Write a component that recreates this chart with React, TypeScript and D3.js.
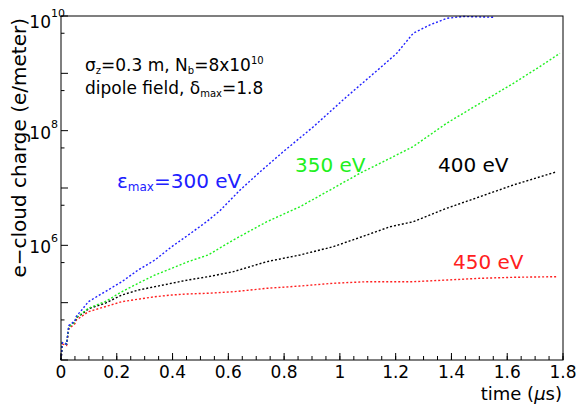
import React from "react";
import * as d3 from "d3";

const blueT = [0, 0.005, 0.02, 0.028, 0.05, 0.055, 0.075, 0.098, 0.158, 0.218, 0.277, 0.337, 0.397, 0.456, 0.522, 0.57, 0.642, 0.714, 0.797, 0.905, 1.024, 1.144, 1.204, 1.263, 1.323, 1.383, 1.442, 1.55];
const blueV = [1.0e4, 2.0e4, 1.9e4, 4.0e4, 4.8e4, 5.8e4, 7.5e4, 1.04e5, 1.55e5, 2.32e5, 3.72e5, 5.55e5, 9.46e5, 1.51e6, 2.58e6, 4.03e6, 9.2e6, 1.92e7, 4.3e7, 1.17e8, 3.9e8, 1.24e9, 2.24e9, 5.0e9, 7.0e9, 9.1e9, 9.8e9, 9.5e9];

const greenT = [0, 0.005, 0.02, 0.028, 0.05, 0.055, 0.075, 0.098, 0.158, 0.218, 0.277, 0.337, 0.397, 0.456, 0.528, 0.618, 0.738, 0.857, 0.976, 1.072, 1.168, 1.262, 1.383, 1.502, 1.622, 1.717, 1.789];
const greenV = [1.0e4, 2.0e4, 1.9e4, 3.8e4, 4.6e4, 5.6e4, 6.5e4, 8.0e4, 1.04e5, 1.55e5, 2.18e5, 3.04e5, 3.98e5, 5.19e5, 6.8e5, 1.24e6, 2.58e6, 4.72e6, 9.9e6, 1.81e7, 3.08e7, 5.25e7, 1.35e8, 3.0e8, 6.7e8, 1.31e9, 2.24e9];

const blackT = [0, 0.005, 0.02, 0.028, 0.05, 0.055, 0.075, 0.098, 0.158, 0.218, 0.277, 0.337, 0.397, 0.456, 0.528, 0.618, 0.738, 0.857, 0.976, 1.096, 1.18, 1.263, 1.383, 1.502, 1.622, 1.777];
const blackV = [1.0e4, 2.0e4, 1.9e4, 3.8e4, 4.6e4, 5.5e4, 6.3e4, 7.8e4, 9.75e4, 1.36e5, 1.66e5, 1.9e5, 2.18e5, 2.49e5, 2.84e5, 3.47e5, 5.19e5, 6.79e5, 9.47e5, 1.51e6, 2.11e6, 2.58e6, 4.43e6, 7.05e6, 1.13e7, 1.92e7];

const redT = [0, 0.005, 0.02, 0.028, 0.05, 0.055, 0.075, 0.098, 0.158, 0.218, 0.277, 0.337, 0.397, 0.456, 0.528, 0.618, 0.738, 0.857, 0.976, 1.096, 1.263, 1.383, 1.502, 1.622, 1.777];
const redV = [1.0e4, 1.9e4, 1.8e4, 3.5e4, 4.3e4, 5.0e4, 5.8e4, 6.95e4, 8.5e4, 1.04e5, 1.15e5, 1.27e5, 1.36e5, 1.42e5, 1.46e5, 1.55e5, 1.78e5, 1.95e5, 2.18e5, 2.32e5, 2.32e5, 2.48e5, 2.66e5, 2.77e5, 2.84e5];

const xTickLabels = ["0", "0.2", "0.4", "0.6", "0.8", "1", "1.2", "1.4", "1.6", "1.8"];
const yLabelExps = [10, 8, 6];

const W = 578, H = 408;
const L = 61, R = 563, T = 16, B = 360;
const FONT = "DejaVu Sans, sans-serif";

export default function App() {
  const x = d3.scaleLinear().domain([0, 1.8]).range([L, R]);
  const y = d3.scaleLog().domain([1e4, 1e10]).range([B, T]);
  const line = d3.line<[number, number]>().x(d => x(d[0])).y(d => y(d[1]));

  const series = [
    { t: redT, v: redV, c: "#ff2020" },
    { t: blackT, v: blackV, c: "#000000" },
    { t: greenT, v: greenV, c: "#20f020" },
    { t: blueT, v: blueV, c: "#2020ff" },
  ];

  const xMinor = d3.range(0, 1.8001, 0.05);
  const xMajor = xTickLabels.map(s => +s);
  const yMajor = d3.range(4, 11).map(e => Math.pow(10, e));
  const yMinor = d3.range(4, 10).map(e => 5 * Math.pow(10, e));

  return (
    <svg width={W} height={H} style={{ position: "absolute", left: 0, top: 0, background: "#fff" }} fontFamily={FONT}>
      <rect x={0} y={0} width={W} height={H} fill="#fff" />
      {series.map((s, i) => (
        <path key={i} d={line(s.t.map((t, j) => [t, s.v[j]]) as [number, number][]) || ""}
          fill="none" stroke={s.c} strokeWidth={1.4} strokeDasharray="2 2" />
      ))}
      <rect x={L} y={T} width={R - L} height={B - T} fill="none" stroke="#000" strokeWidth={1} />
      {xMinor.map((v, i) => (
        <line key={"xm" + i} x1={x(v)} x2={x(v)} y1={B} y2={B - 4} stroke="#000" />
      ))}
      {xMajor.map((v, i) => (
        <line key={"xM" + i} x1={x(v)} x2={x(v)} y1={B} y2={B - 7} stroke="#000" />
      ))}
      {xTickLabels.map((s, i) => (
        <text key={"xl" + i} x={x(+s)} y={378} fontSize={17} textAnchor="middle">{s}</text>
      ))}
      {yMajor.map((v, i) => (
        <line key={"yM" + i} x1={L} x2={L + 7} y1={y(v)} y2={y(v)} stroke="#000" />
      ))}
      {yMinor.map((v, i) => (
        <line key={"ym" + i} x1={L} x2={L + 3.5} y1={y(v)} y2={y(v)} stroke="#000" />
      ))}
      {yLabelExps.map((e, i) => {
        const yy = y(Math.pow(10, e));
        const base = e === 10 ? yy + 12 : yy + 8;
        return (
          <g key={"yl" + i}>
            <text x={51} y={base} fontSize={17} textAnchor="end">10</text>
            <text x={51} y={base - 11} fontSize={11}>{String(e)}</text>
          </g>
        );
      })}
      <text x={562} y={400} fontSize={18} textAnchor="end">time (<tspan fontStyle="italic">μ</tspan>s)</text>
      <text transform="translate(26,18) rotate(-90)" fontSize={20} textAnchor="end">e−cloud charge (e/meter)</text>
      <text x={85} y={71} fontSize={17}>
        σ<tspan fontSize={10} dy={3}>z</tspan><tspan dy={-3}>=0.3 m, N</tspan><tspan fontSize={10} dy={3}>b</tspan><tspan dy={-3}>=8x10</tspan><tspan fontSize={10} dy={-7}>10</tspan>
      </text>
      <text x={85} y={94} fontSize={17}>
        dipole field, δ<tspan fontSize={10} dy={3}>max</tspan><tspan dy={-3}>=1.8</tspan>
      </text>
      <text x={117} y={188} fontSize={20} fill="#2020ff">
        ε<tspan fontSize={12} dy={3}>max</tspan><tspan dy={-3}>=300 eV</tspan>
      </text>
      <text x={295} y={172} fontSize={20} fill="#20f020">350 eV</text>
      <text x={438} y={172} fontSize={20} fill="#000">400 eV</text>
      <text x={453} y={269} fontSize={20} fill="#ff2020">450 eV</text>
    </svg>
  );
}
